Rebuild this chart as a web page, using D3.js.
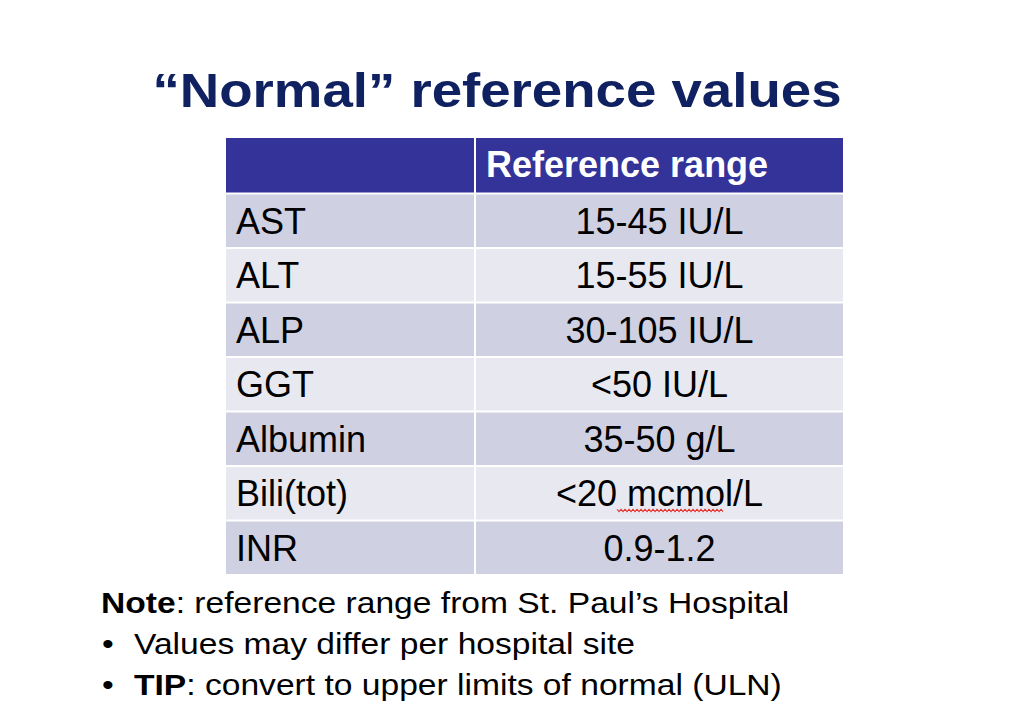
<!DOCTYPE html>
<html lang="en">
<head>
<meta charset="utf-8">
<title>Normal reference values</title>
<script src="https://cdnjs.cloudflare.com/ajax/libs/d3/7.8.5/d3.min.js"></script>
<style>
  body { margin: 0; background: #fff; }
  text { font-family: "Liberation Sans", Arial, Helvetica, sans-serif; }
</style>
</head>
<body>
<script>
// table data
var headerLabels = ["", "Reference range"];
var tests = ["AST", "ALT", "ALP", "GGT", "Albumin", "Bili(tot)", "INR"];
var ranges = ["15-45 IU/L", "15-55 IU/L", "30-105 IU/L", "<50 IU/L", "35-50 g/L", "<20 mcmol/L", "0.9-1.2"];
var noteLines = [
  {bold: "Note", rest: ": reference range from St. Paul\u2019s Hospital", bullet: false},
  {bold: "", rest: "Values may differ per hospital site", bullet: true},
  {bold: "TIP", rest: ": convert to upper limits of normal (ULN)", bullet: true}
];

var w = 1023, h = 715;

var svg = d3.select("body").append("svg")
  .attr("width", w)
  .attr("height", h);

// title (slide text is a bit stretched sideways)
svg.append("text")
  .attr("transform", "translate(497,107) scale(1.15,1)")
  .attr("text-anchor", "middle")
  .attr("font-size", 47.5)
  .attr("font-weight", "bold")
  .attr("fill", "#0f2160")
  .text("\u201CNormal\u201D reference values");

// table scales
var rowKeys = ["header"].concat(tests);
var y = d3.scaleBand()
  .domain(rowKeys)
  .range([138, 574]);
var x = d3.scaleOrdinal()
  .domain(["name", "range"])
  .range([226, 474]);
var colW = {name: 248, range: 369};
var gap = 2;
var fs = 36;

function mid(d) {
  return d == "header" ? y(d) + y.bandwidth() / 2 : y(d) + gap + (y.bandwidth() - gap) / 2;
}

var rows = svg.selectAll("g.row")
  .data(rowKeys)
  .enter()
  .append("g")
  .attr("class", "row");

["name", "range"].forEach(function(col) {
  rows.append("rect")
    .attr("x", function() { return x(col) + (col == "range" ? gap : 0); })
    .attr("y", function(d) { return y(d) + (d == "header" ? 0 : gap); })
    .attr("width", colW[col] - (col == "range" ? gap : 0))
    .attr("height", function(d) { return y.bandwidth() - (d == "header" ? 0 : gap); })
    .attr("fill", function(d, i) {
      if (d == "header") return "#333399";
      return i % 2 == 1 ? "#cfd0e2" : "#e8e9f0";
    });
});

// header text
svg.append("text")
  .attr("x", x("range") + 12)
  .attr("y", mid("header") + 12)
  .attr("font-size", fs)
  .attr("font-weight", "bold")
  .attr("fill", "#ffffff")
  .text(headerLabels[1]);

// body text
svg.selectAll("text.name")
  .data(tests)
  .enter()
  .append("text")
  .attr("class", "name")
  .attr("x", x("name") + 10)
  .attr("y", function(d) { return mid(d) + 13; })
  .attr("font-size", fs)
  .attr("fill", "#000")
  .text(function(d) { return d; });

var cx = x("range") + colW.range / 2 + 1;
svg.selectAll("text.range")
  .data(tests)
  .enter()
  .append("text")
  .attr("class", "range")
  .attr("x", cx)
  .attr("y", function(d) { return mid(d) + 13; })
  .attr("text-anchor", "middle")
  .attr("font-size", fs)
  .attr("fill", "#000")
  .text(function(d, i) { return ranges[i]; });

// spell-check squiggle under "mcmol"
var biliText = svg.selectAll("text.range").filter(function(d) { return d == "Bili(tot)"; });
var full = biliText.node().getComputedTextLength();
var tmp = svg.append("text").attr("font-size", fs).text("<20 ");
var preW = tmp.node().getComputedTextLength();
tmp.text("mcmol");
var wordW = tmp.node().getComputedTextLength();
tmp.remove();
var sqX0 = cx - full / 2 + preW;
var sqX1 = sqX0 + wordW + 2;
var sqY = mid("Bili(tot)") + 17;
var pts = d3.range(sqX0, sqX1, 2).map(function(px, i) { return [px, sqY + (i % 2 ? 1.3 : -1)]; });
svg.append("path")
  .attr("d", d3.line()(pts))
  .attr("fill", "none")
  .attr("stroke", "#e0302a")
  .attr("stroke-width", 1.1);

// notes below the table
var noteY = d3.scaleLinear().domain([0, 1]).range([613, 654]);
noteLines.forEach(function(line, i) {
  if (line.bullet) {
    svg.append("text")
      .attr("transform", "translate(102," + noteY(i) + ") scale(1.12,1)")
      .attr("font-size", 30)
      .text("\u2022");
  }
  var t = svg.append("text")
    .attr("transform", "translate(" + (line.bullet ? 134 : 101) + "," + noteY(i) + ") scale(1.12,1)")
    .attr("font-size", 30)
    .attr("fill", "#000");
  if (line.bold) t.append("tspan").attr("font-weight", "bold").text(line.bold);
  t.append("tspan").text(line.rest);
});
</script>
</body>
</html>
